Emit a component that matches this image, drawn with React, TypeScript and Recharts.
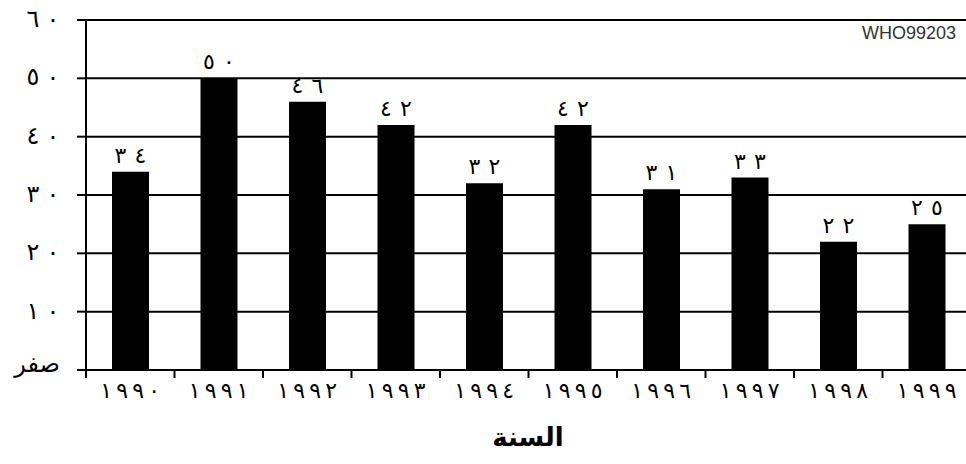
import React from 'react';
import { BarChart, Bar, XAxis, YAxis, CartesianGrid, LabelList } from 'recharts';

const years = ['١٩٩٠', '١٩٩١', '١٩٩٢', '١٩٩٣', '١٩٩٤', '١٩٩٥', '١٩٩٦', '١٩٩٧', '١٩٩٨', '١٩٩٩'];
const values = [34, 50, 46, 42, 32, 42, 31, 33, 22, 25];
const valueLabels = ['٣٤', '٥٠', '٤٦', '٤٢', '٣٢', '٤٢', '٣١', '٣٣', '٢٢', '٢٥'];
const yTicks = [0, 10, 20, 30, 40, 50, 60];
const yTickLabels = ['صفر', '١٠', '٢٠', '٣٠', '٤٠', '٥٠', '٦٠'];

const data = years.map((y, i) => ({ year: y, value: values[i], label: valueLabels[i] }));

const FONT = '"DejaVu Sans", sans-serif';
const CHART_W = 975;
const PLOT_LEFT = 86;
const PLOT_RIGHT = 971;
const BAND = (PLOT_RIGHT - PLOT_LEFT) / years.length;

// Chrome drops letter-spacing for Arabic runs, so space digits one by one
const Spaced = ({ text, cx, y, step, size }: { text: string; cx: number; y: number; step: number; size: number }) => {
  const chars = Array.from(text);
  const start = cx - ((chars.length - 1) * step) / 2;
  return (
    <g>
      {chars.map((c, i) => (
        <text key={i} x={start + i * step} y={y} textAnchor="middle" fontFamily={FONT} fontSize={size} fill="#000">
          {c}
        </text>
      ))}
    </g>
  );
};

const XTick = (props: any) => {
  const { x, y, payload } = props;
  const off = payload && payload.offset ? payload.offset : BAND / 2;
  const axisY = y - 12;
  return (
    <g>
      <line x1={x - off} y1={axisY} x2={x - off} y2={axisY + 8} stroke="#000" strokeWidth={2} />
      <Spaced text={payload.value} cx={x} y={axisY + 28} step={16} size={22} />
    </g>
  );
};

const YTick = (props: any) => {
  const { x, y, payload } = props;
  const idx = yTicks.indexOf(payload.value);
  const label = yTickLabels[idx];
  if (payload.value === 0) {
    return (
      <text x={x + 5} y={y + 2} textAnchor="end" fontFamily={FONT} fontSize={24} fill="#000">
        {label}
      </text>
    );
  }
  return <Spaced text={label} cx={x - 12} y={y + 7} step={20} size={24} />;
};

const BarLabel = (props: any) => {
  const { x, y, width, value } = props;
  return <Spaced text={String(value)} cx={x + width / 2} y={y - 9} step={20} size={22} />;
};

export default function App() {
  return (
    <div style={{ position: 'absolute', left: 0, top: 0, width: 966, height: 464, overflow: 'hidden', background: '#fff' }}>
      <BarChart
        width={CHART_W}
        height={464}
        data={data}
        margin={{ top: 20, right: CHART_W - PLOT_RIGHT, left: 0, bottom: 64 }}
      >
        <CartesianGrid vertical={false} stroke="#000" strokeWidth={2} />
        <XAxis
          dataKey="year"
          height={30}
          axisLine={{ stroke: '#000', strokeWidth: 2 }}
          tickLine={false}
          tickSize={8}
          tickMargin={4}
          interval={0}
          tick={<XTick />}
        />
        <YAxis
          width={PLOT_LEFT}
          domain={[0, 60]}
          ticks={yTicks}
          axisLine={{ stroke: '#000', strokeWidth: 2 }}
          tickLine={{ stroke: '#000', strokeWidth: 2 }}
          tickSize={9}
          tickMargin={22}
          tick={<YTick />}
        />
        <Bar dataKey="value" fill="#000" barSize={37} isAnimationActive={false}>
          <LabelList dataKey="label" content={<BarLabel />} />
        </Bar>
      </BarChart>
      <div
        style={{
          position: 'absolute',
          left: 862,
          top: 23,
          fontFamily: '"Liberation Sans", Arial, sans-serif',
          fontSize: 18,
          color: '#333',
        }}
      >
        WHO99203
      </div>
      <div
        style={{
          position: 'absolute',
          left: 0,
          width: 1056,
          top: 422,
          textAlign: 'center',
          fontFamily: FONT,
          fontWeight: 'bold',
          fontSize: 26,
          color: '#000',
        }}
      >
        السنة
      </div>
    </div>
  );
}
